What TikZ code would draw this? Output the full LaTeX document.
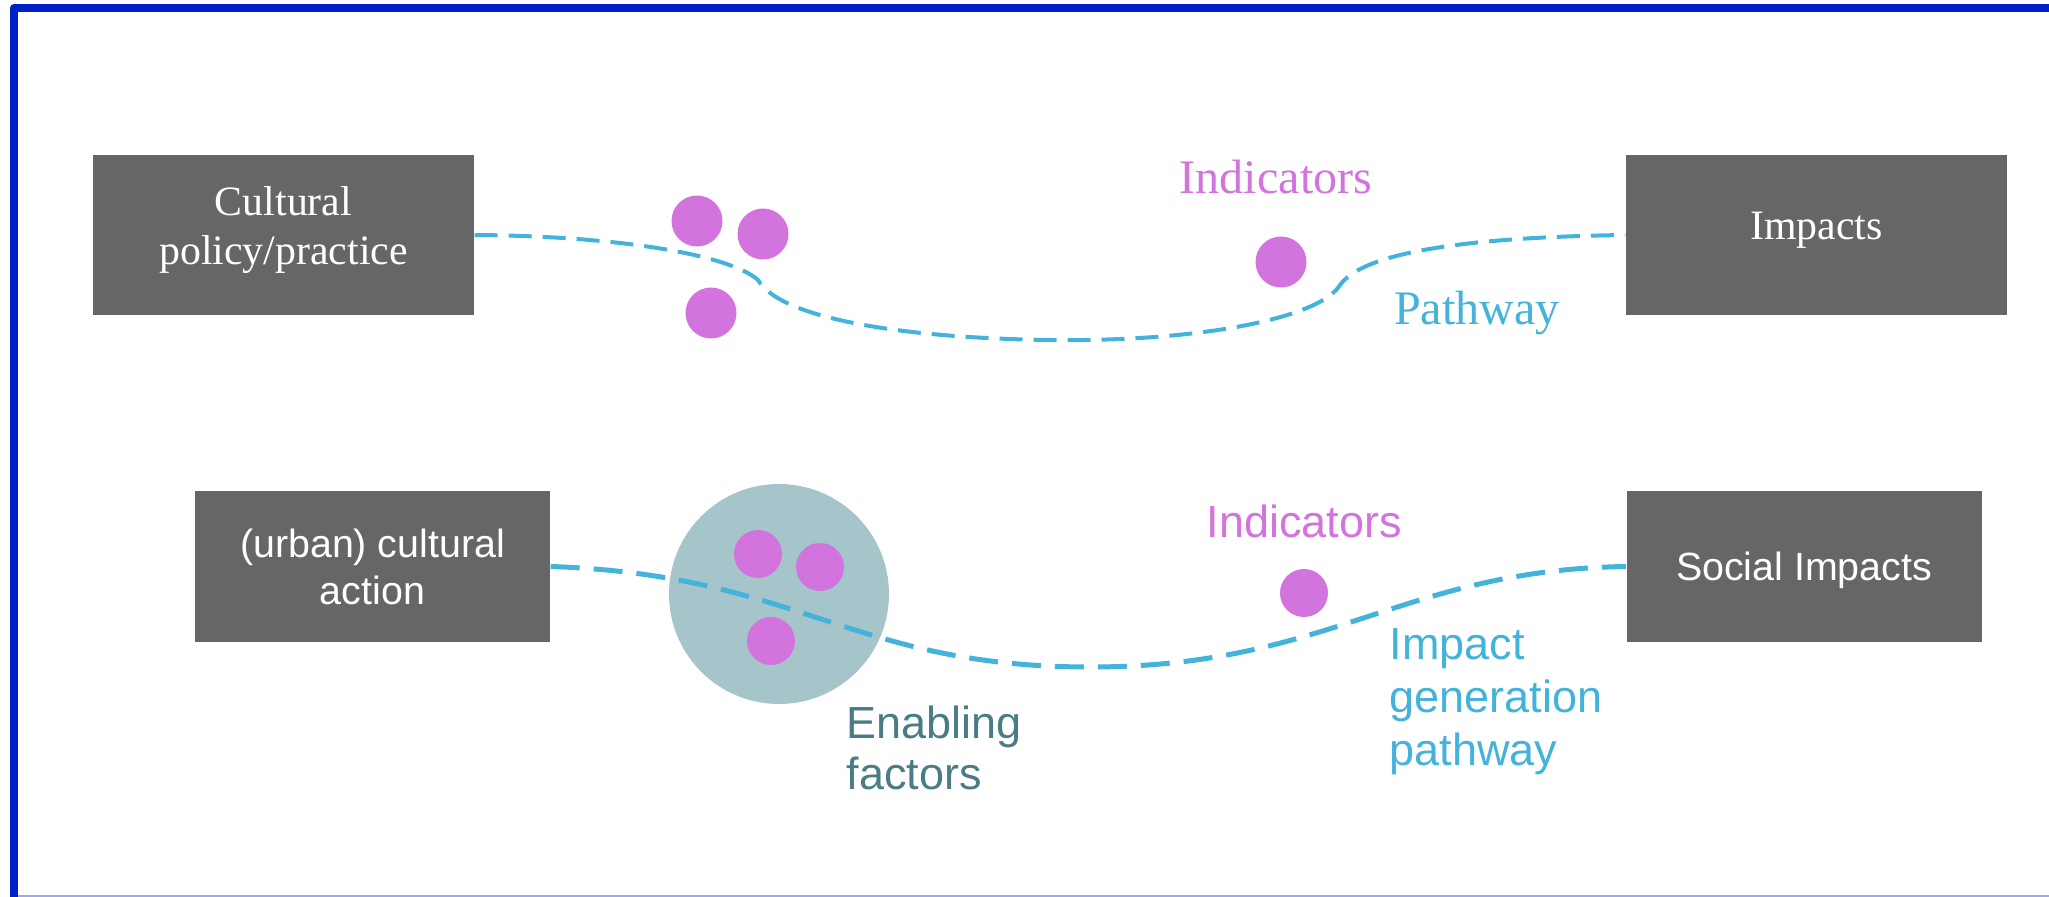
\documentclass[tikz,border=0pt]{standalone}
\usepackage{fontspec}
\setmainfont{Liberation Serif}
\setsansfont{Liberation Sans}
\usepackage{tikz}
\usetikzlibrary{positioning}
\definecolor{frame}{HTML}{0020C8}
\definecolor{framelight}{HTML}{A0A8E8}
\definecolor{boxgrey}{HTML}{666666}
\definecolor{indicator}{HTML}{D373DD}
\definecolor{pathway}{HTML}{44B3DB}
\definecolor{enabling}{HTML}{A6C5CA}
\definecolor{enablingtext}{HTML}{4A7C86}

\begin{document}
\begin{tikzpicture}[
    x=0.1mm, y=-0.1mm,
    box/.style = {rectangle, fill=boxgrey, text=white, align=center, inner sep=0pt},
    topbox/.style = {box, minimum width=38.1mm, minimum height=16mm, text depth=5.4pt, font=\fontsize{11.9}{14.2}\selectfont},
    botbox/.style = {box, minimum width=35.5mm, minimum height=15.1mm, text depth=0pt, font=\sffamily\fontsize{11.2}{13.4}\selectfont},
    inddot/.style = {circle, fill=indicator, inner sep=0pt, minimum size=5.1mm},
    inddotsmall/.style = {inddot, minimum size=4.8mm},
    serifnote/.style = {font=\fontsize{13.7}{16}\selectfont, inner sep=0pt},
    sansnote/.style = {font=\sffamily\fontsize{12.8}{14.6}\selectfont, inner sep=0pt, align=left},
    pathtop/.style = {pathway, line width=0.4mm, dash pattern=on 2.3mm off 1.1mm},
    pathbot/.style = {pathway, line width=0.5mm, dash pattern=on 2.9mm off 1.4mm},
]
    \useasboundingbox (0,0) rectangle (2049,897);

    % frame
    \draw[frame, line width=0.8mm, line join=round] (14,897) -- (14,8) -- (2049,8);
    \draw[framelight, line width=0.25mm] (18,896) -- (2049,896);

    % top row
    \node[topbox] (policy) at (283.5,235) {Cultural\\policy/practice};
    \node[topbox] (impacts) at (1816.5,235) {Impacts};

    \coordinate (bend1) at (758,280);
    \coordinate (low1) at (1050,340);
    \coordinate (bend2) at (1340,285);
    \draw[pathtop] (policy.east) .. controls (620,236) and (730,255) .. (bend1)
        .. controls (780,318) and (900,338) .. (low1)
        .. controls (1200,342) and (1320,318) .. (bend2)
        .. controls (1365,250) and (1480,237) .. (impacts.west);

    \node[inddot] (dota) at (697,221) {};
    \node[inddot] (dotb) at (763,234) {};
    \node[inddot] (dotc) at (711,313) {};
    \node[inddot] (dottop) at (1281,262) {};

    \node[serifnote, text=indicator, anchor=base] (indtop) at (1276,193) {Indicators};
    \node[serifnote, text=pathway, anchor=base] (pathlabel) at (1477,324) {Pathway};

    % bottom row
    \node[botbox] (action) at (372.5,566.5) {(urban) cultural\\action};
    \node[botbox] (social) at (1804,566.5) {Social Impacts};

    \node[circle, fill=enabling, minimum size=22mm, inner sep=0pt] (factors) at (779,594) {};

    \coordinate (low2) at (1090,667);
    \draw[pathbot] (action.east) .. controls (800,575) and (850,667) .. (low2)
        .. controls (1330,667) and (1400,570) .. (social.west);

    \node[inddotsmall] (dotd) at (758,554) {};
    \node[inddotsmall] (dote) at (820,567) {};
    \node[inddotsmall] (dotf) at (771,641) {};
    \node[inddotsmall] (dotbot) at (1304,593) {};

    \node[sansnote, text=indicator, anchor=base west] (indbot) at (1206,537) {Indicators};
    \node[sansnote, text=enablingtext, anchor=north west] (enablinglabel) at (846,705) {Enabling\\factors};
    \node[sansnote, text=pathway, anchor=north west, font=\sffamily\fontsize{12.8}{15.1}\selectfont] (impactlabel) at (1389,628) {Impact\\generation\\pathway};

\end{tikzpicture}
\end{document}
